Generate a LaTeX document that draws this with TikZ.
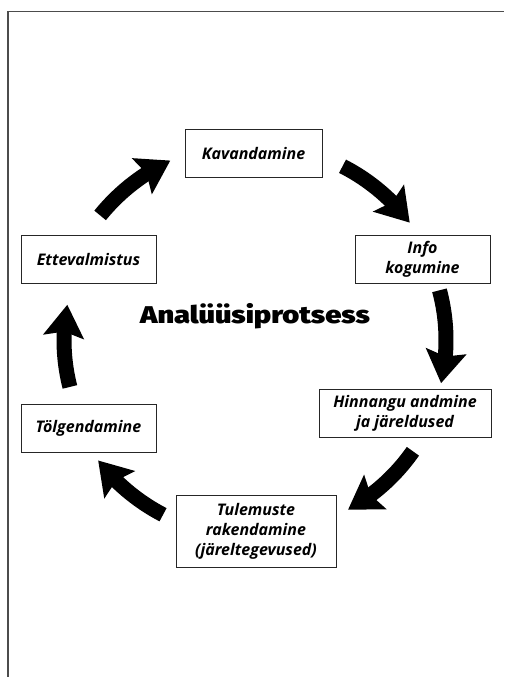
\documentclass[tikz,border=0pt]{standalone}
\usepackage{fontspec}
\setmainfont{Open Sans}
\newfontfamily\titlefont{Fira Sans}[UprightFont={* Black}, FakeStretch=1.2]
\usetikzlibrary{arrows.meta,bending}
\begin{document}
\begin{tikzpicture}[x=1pt,y=1pt,
  stepbox/.style={draw=black!85, line width=1pt, align=center, inner sep=0pt,
    font=\fontsize{16}{20}\selectfont\bfseries\itshape},
  bigarrow/.style={line width=15pt, black, -{Stealth[length=32pt,width=40pt,inset=5pt]}}]
\useasboundingbox (0,0) rectangle (504,-677);
% frame
\draw[black!70, line width=1.5pt] (8,-677) -- (8,-11.5) -- (504,-11.5);
% boxes
\node[stepbox, minimum width=137pt, minimum height=48pt] (kav) at (253.5,-153) {Kavandamine};
\node[stepbox, minimum width=135pt, minimum height=48pt] (info) at (422.5,-259) {Info\\kogumine};
\node[stepbox, minimum width=172pt, minimum height=48pt] (hin) at (405,-413) {Hinnangu andmine\\ja järeldused};
\node[stepbox, minimum width=160pt, minimum height=72pt] (tul) at (256,-531) {Tulemuste\\rakendamine\\(järeltegevused)};
\node[stepbox, minimum width=135pt, minimum height=48pt] (ett) at (88.5,-259) {Ettevalmistus};
\node[stepbox, minimum width=135pt, minimum height=48pt] (tol) at (88.5,-428) {Tölgendamine};
% title
\node[anchor=base, inner sep=0pt, font=\titlefont\fontsize{24.2}{28}\selectfont] (title) at (255,-323.3) {Analüüsiprotsess};
% arrows
\coordinate (C) at (254,-340);
\coordinate (a1) at ([shift={(141:198)}]C);
\coordinate (a2) at ([shift={(63:195)}]C);
\coordinate (a3) at ([shift={(15:192)}]C);
\coordinate (a4) at ([shift={(-35:194)}]C);
\coordinate (a5) at ([shift={(-117.5:197)}]C);
\coordinate (a6) at ([shift={(-165.7:190)}]C);
\draw[bigarrow] (a1) arc[start angle=141, end angle=115, radius=198];
\draw[bigarrow] (a2) arc[start angle=63, end angle=37, radius=195];
\draw[bigarrow] (a3) arc[start angle=15, end angle=-13, radius=192];
\draw[bigarrow] (a4) arc[start angle=-35, end angle=-61, radius=194];
\draw[bigarrow] (a5) arc[start angle=-117.5, end angle=-142.3, radius=197];
\draw[bigarrow] (a6) arc[start angle=-165.7, end angle=-190.7, radius=190];
\end{tikzpicture}
\end{document}
